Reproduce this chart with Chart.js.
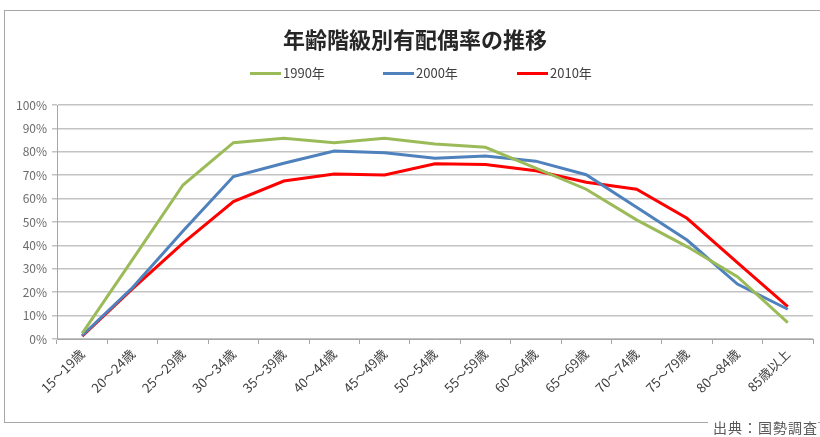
<!DOCTYPE html>
<html>
<head>
    <meta charset="utf-8">
    <title>年齢階級別有配偶率の推移</title>
    <script src="https://cdn.jsdelivr.net/npm/chart.js"></script>
    <style>
        body {
            margin: 0;
            overflow: hidden;
            background: #fff;
            font-family: 'Noto Sans CJK JP', sans-serif;
        }
        .wrap {
            position: relative;
            width: 820px;
            height: 437px;
        }
        .frame {
            position: absolute;
            left: 4px;
            top: 10px;
            width: 840px;
            height: 411px;
            border: 1px solid #a6a6a6;
        }
        canvas {
            position: absolute;
            left: 0;
            top: 0;
        }
        .title {
            position: absolute;
            left: 0;
            width: 830px;
            top: 24px;
            text-align: center;
            font-size: 22px;
            font-weight: bold;
            color: #262626;
            line-height: 28px;
        }
        .legend-item {
            position: absolute;
            top: 64px;
            font-size: 13px;
            color: #404040;
            line-height: 18px;
            white-space: nowrap;
        }
        .legend-item span {
            display: inline-block;
            width: 31px;
            height: 3px;
            vertical-align: middle;
            margin-right: 2px;
            position: relative;
            top: -1px;
        }
        .source {
            position: absolute;
            left: 708px;
            top: 418px;
            padding-left: 5px;
            background: #fff;
            font-size: 14px;
            color: #595959;
            line-height: 18px;
            letter-spacing: 1px;
        }
    </style>
</head>
<body>
    <div class="wrap">
        <div class="frame"></div>
        <canvas id="marriedChart" width="820" height="437"></canvas>
        <div class="title">年齢階級別有配偶率の推移</div>
        <div id="legend"></div>
        <div class="source">出典：国勢調査</div>
    </div>
    <script>
        // データ
        const ageGroups = ['15～19歳', '20～24歳', '25～29歳', '30～34歳', '35～39歳', '40～44歳', '45～49歳',
            '50～54歳', '55～59歳', '60～64歳', '65～69歳', '70～74歳', '75～79歳', '80～84歳', '85歳以上'];
        const seriesNames = ['1990年', '2000年', '2010年'];
        const seriesColors = ['#9bbb59', '#4f81bd', '#ff0000'];
        const rate1990 = [2.4, 34, 65.8, 83.9, 85.8, 83.9, 85.8, 83.3, 81.9, 73, 64, 50.9, 39.5, 26.6, 7.0];
        const rate2000 = [1.5, 22, 46.2, 69.4, 75.1, 80.3, 79.6, 77.2, 78.2, 76, 70.2, 56.3, 42.3, 23.5, 12.7];
        const rate2010 = [1.2, 21.5, 41, 58.7, 67.5, 70.5, 70.1, 74.9, 74.6, 71.9, 67, 64.0, 51.6, 32.6, 13.8];
        const yTicks = [0, 10, 20, 30, 40, 50, 60, 70, 80, 90, 100];

        // 凡例 (HTML)
        const legendLeft = [250, 383, 517];
        const legendBox = document.getElementById('legend');
        seriesNames.forEach((name, i) => {
            const item = document.createElement('div');
            item.className = 'legend-item';
            item.style.left = legendLeft[i] + 'px';
            item.innerHTML = '<span style="background:' + seriesColors[i] + '"></span>' + name;
            legendBox.appendChild(item);
        });

        const allRates = [rate1990, rate2000, rate2010];
        const ctx = document.getElementById('marriedChart').getContext('2d');
        new Chart(ctx, {
            type: 'line',
            data: {
                labels: ageGroups,
                datasets: seriesNames.map((name, i) => ({
                    label: name,
                    data: allRates[i],
                    borderColor: seriesColors[i],
                    backgroundColor: seriesColors[i],
                    borderWidth: 3,
                    pointRadius: 0,
                    tension: 0
                }))
            },
            options: {
                responsive: false,
                animation: false,
                layout: {
                    padding: { left: 0, right: 7, top: 105, bottom: 0 }
                },
                plugins: {
                    legend: { display: false },
                    title: { display: false },
                    tooltip: { enabled: false }
                },
                scales: {
                    x: {
                        offset: true,
                        afterFit: (scale) => { scale.height = 98; },
                        grid: {
                            display: true,
                            drawOnChartArea: false,
                            offset: true,
                            tickLength: 5,
                            color: '#a6a6a6'
                        },
                        border: { color: '#a6a6a6', width: 1 },
                        ticks: {
                            minRotation: 45,
                            maxRotation: 45,
                            autoSkip: false,
                            padding: 2,
                            color: '#404040',
                            font: { family: "'Noto Sans CJK JP'", size: 13 }
                        }
                    },
                    y: {
                        min: 0,
                        max: 100,
                        afterFit: (scale) => { scale.width = 57; },
                        afterBuildTicks: (scale) => { scale.ticks = yTicks.map(v => ({ value: v })); },
                        grid: {
                            color: '#c3c3c3',
                            lineWidth: 1.5,
                            tickLength: 5
                        },
                        border: { color: '#a6a6a6', width: 1 },
                        ticks: {
                            padding: 5,
                            color: '#6b6b6b',
                            font: { family: "'Noto Sans CJK JP'", size: 12 },
                            callback: (v) => v + '%'
                        }
                    }
                }
            }
        });
    </script>
</body>
</html>
